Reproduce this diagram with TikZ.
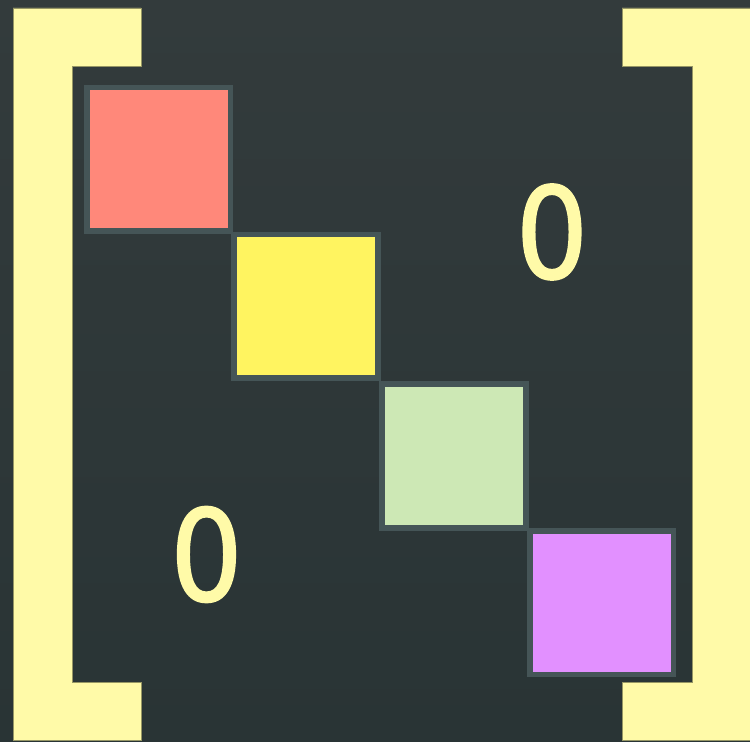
\documentclass[tikz,border=0pt]{standalone}
\usepackage{fontspec}
\setmainfont{DejaVu Sans}
\newfontfamily\zerofont[FakeBold=1.6]{DejaVu Sans}
\usepackage{tikz}
\usepackage{xcolor}

\definecolor{bgtop}{RGB}{51,59,60}
\definecolor{bgbot}{RGB}{41,52,53}
\definecolor{brack}{RGB}{255,250,168}
\definecolor{brackedge}{RGB}{150,150,100}
\definecolor{cellline}{RGB}{69,85,87}
\definecolor{redcell}{RGB}{255,136,122}
\definecolor{yellowcell}{RGB}{255,244,96}
\definecolor{greencell}{RGB}{205,232,181}
\definecolor{purplecell}{RGB}{226,144,255}

\begin{document}
\begin{tikzpicture}[x=0.02cm,y=-0.02cm,
  cell/.style={draw=cellline,line width=3.4pt,minimum size=2.88cm,inner sep=0pt},
  zero/.style={text=brack,font=\zerofont\fontsize{72}{72}\selectfont,inner sep=0pt}]
\shade[top color=bgtop,bottom color=bgbot] (0,0) rectangle (750,742);
\useasboundingbox (0,0) rectangle (750,742);
% brackets
\filldraw[fill=brack,draw=brackedge,line width=0.4pt] (13,8) -- (141,8) -- (141,66) -- (72,66) -- (72,682) -- (141,682) -- (141,740) -- (13,740) -- cycle;
\filldraw[fill=brack,draw=brackedge,line width=0.4pt] (751,8) -- (622,8) -- (622,66) -- (692,66) -- (692,682) -- (622,682) -- (622,740) -- (751,740) -- cycle;
% diagonal blocks
\node[cell,fill=redcell] (b1) at (158.5,159.5) {};
\node[cell,fill=yellowcell] (b2) at (306.2,306.5) {};
\node[cell,fill=greencell] (b3) at (453.8,456) {};
\node[cell,fill=purplecell] (b4) at (601.5,602.5) {};
% zero entries
\node[zero,xscale=0.9] (z1) at (552,232) {0};
\node[zero,xscale=0.9] (z2) at (206.5,554.5) {0};
\end{tikzpicture}
\end{document}
